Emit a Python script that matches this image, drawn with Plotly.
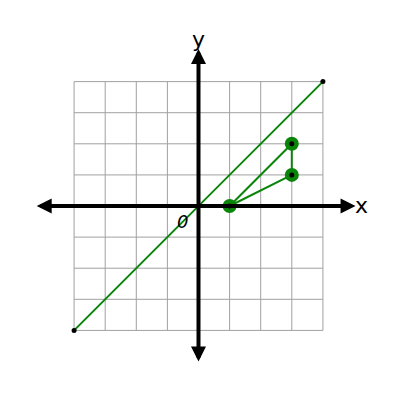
import plotly.graph_objects as go

# %% Dados
grid_ticks = [-4, -3, -2, -1, 0, 1, 2, 3, 4]
diag_x = [-4, 4]
diag_y = [-4, 4]
tri_x = [1, 3, 3, 1]
tri_y = [0, 2, 1, 0]
axis_x_ends = [-5.25, 5.05]
axis_y_ends = [-5.05, 5.05]

verde = "#0a850a"
fonte = "DejaVu Sans"

fig = go.Figure()

# grade
gx, gy = [], []
for t in grid_ticks:
    gx += [t, t, None, grid_ticks[0], grid_ticks[-1], None]
    gy += [grid_ticks[0], grid_ticks[-1], None, t, t, None]
fig.add_trace(go.Scatter(x=gx, y=gy, mode="lines",
                         line=dict(color="#a0a0a0", width=1), hoverinfo="skip"))

# reta y = x
fig.add_trace(go.Scatter(x=diag_x, y=diag_y, mode="lines+markers",
                         line=dict(color=verde, width=2),
                         marker=dict(color="black", size=5)))

# triangulo
fig.add_trace(go.Scatter(x=tri_x, y=tri_y, mode="lines",
                         line=dict(color=verde, width=2)))
fig.add_trace(go.Scatter(x=tri_x[:3], y=tri_y[:3], mode="markers",
                         marker=dict(color=verde, size=14)))
fig.add_trace(go.Scatter(x=tri_x[:3], y=tri_y[:3], mode="markers",
                         marker=dict(color="black", size=5)))

# eixos com setas
seta = dict(text="", showarrow=True, xref="x", yref="y", axref="x", ayref="y",
            arrowcolor="black", arrowwidth=4, arrowhead=2, arrowsize=0.75,
            startarrowhead=2, startarrowsize=0.75, arrowside="end+start")
fig.add_annotation(x=axis_x_ends[1], y=0, ax=axis_x_ends[0], ay=0, **seta)
fig.add_annotation(x=0, y=axis_y_ends[1], ax=0, ay=axis_y_ends[0], **seta)

fig.add_annotation(x=5.25, y=0.02, text="x", showarrow=False,
                   font=dict(family=fonte, size=22, color="black"))
fig.add_annotation(x=0, y=5.35, text="y", showarrow=False,
                   font=dict(family=fonte, size=22, color="black"))
fig.add_annotation(x=-0.5, y=-0.5, text="<i>0</i>", showarrow=False,
                   font=dict(family=fonte, size=18, color="black"))

fig.update_xaxes(range=[-6.125, 6.736], visible=False, fixedrange=True)
fig.update_yaxes(range=[-6.495, 6.367], visible=False, fixedrange=True)
fig.update_layout(width=400, height=400, margin=dict(l=0, r=0, t=0, b=0),
                  showlegend=False, plot_bgcolor="white", paper_bgcolor="white")

fig.write_html("out.html")
